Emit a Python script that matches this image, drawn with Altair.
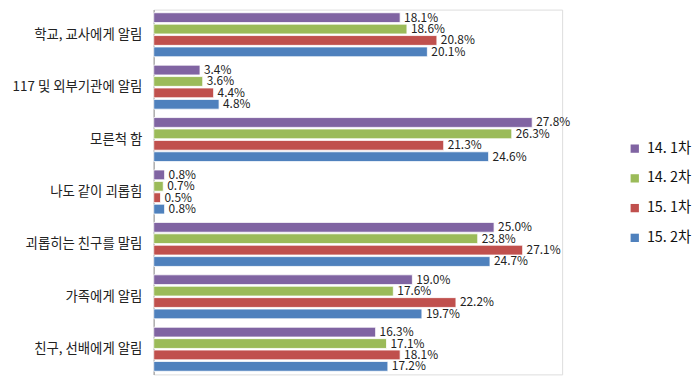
import altair as alt
import pandas as pd

categories = ["학교, 교사에게 알림", "117 및 외부기관에 알림", "모른척 함", "나도 같이 괴롭힘",
              "괴롭히는 친구를 말림", "가족에게 알림", "친구, 선배에게 알림"]
series = ["14. 1차", "14. 2차", "15. 1차", "15. 2차"]
colors = ["#8064A2", "#9BBB59", "#C0504D", "#4F81BD"]
v14_1 = [18.1, 3.4, 27.8, 0.8, 25.0, 19.0, 16.3]
v14_2 = [18.6, 3.6, 26.3, 0.7, 23.8, 17.6, 17.1]
v15_1 = [20.8, 4.4, 21.3, 0.5, 27.1, 22.2, 18.1]
v15_2 = [20.1, 4.8, 24.6, 0.8, 24.7, 19.7, 17.2]

rows = []
for s, vals in zip(series, [v14_1, v14_2, v15_1, v15_2]):
    for c, v in zip(categories, vals):
        rows.append({"category": c, "series": s, "value": v, "label": f"{v:.1f}%"})
df = pd.DataFrame(rows)

FONT = "Noto Sans CJK KR"

y = alt.Y("category:N", sort=categories,
          scale=alt.Scale(paddingInner=0.16, paddingOuter=0.06),
          axis=alt.Axis(title=None, ticks=False, domainColor="#b0b0b0", domainWidth=1.5,
                        labelFontSize=13.5, labelColor="#222", labelFont=FONT, labelPadding=12,
                        minExtent=147))
yoff = alt.YOffset("series:N", sort=series, scale=alt.Scale(paddingInner=0.14))
x = alt.X("value:Q", scale=alt.Scale(domain=[0, 30], nice=False), axis=None)

bars = alt.Chart(df).mark_bar(stroke="white", strokeWidth=0.8).encode(
    y=y, yOffset=yoff, x=x,
    color=alt.Color("series:N", sort=series,
                    scale=alt.Scale(domain=series, range=colors),
                    legend=alt.Legend(title=None, orient="none", legendX=478, legendY=133,
                                      symbolType="square", symbolSize=70, symbolStrokeWidth=0,
                                      labelFontSize=14.5, labelColor="#111", labelFont=FONT,
                                      rowPadding=15, labelOffset=5)),
)

texts = alt.Chart(df).mark_text(align="left", baseline="middle", dx=4, fontSize=12,
                                font=FONT, color="#222").encode(
    y=y, yOffset=yoff, x=x, text="label:N")

chart = (bars + texts).properties(width=412, height=368).configure_view(stroke=None).configure(
    padding={"left": 0, "top": 0, "right": 0, "bottom": 0})

chart.save("out.html", embed_options={"renderer": "svg", "actions": False})
